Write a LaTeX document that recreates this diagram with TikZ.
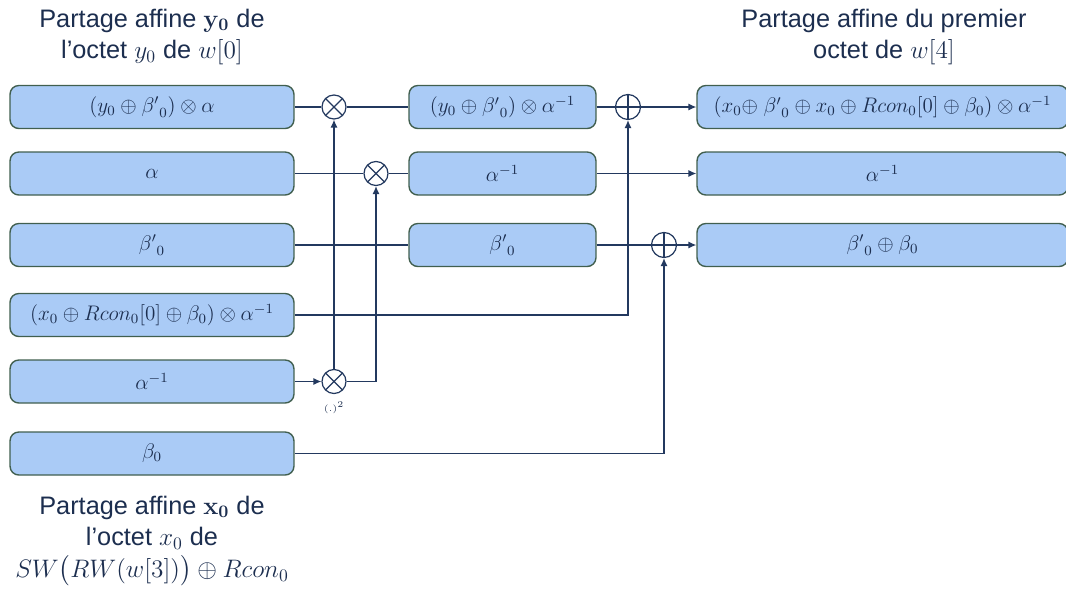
\documentclass[tikz,border=0pt]{standalone}
\usepackage[no-math]{fontspec}
\setmainfont{Liberation Sans}
\usepackage{amsmath,amssymb}
\usetikzlibrary{arrows.meta,positioning}
\definecolor{navy}{HTML}{1C2E4F}
\definecolor{wire}{HTML}{23395F}
\definecolor{boxfill}{HTML}{AACBF6}
\definecolor{boxline}{HTML}{415F4F}
\newcommand\boxmath{\fontsize{11.5}{14}\selectfont}
\newcommand\titlefont{\fontsize{14.4}{18}\selectfont}

\begin{document}
\begin{tikzpicture}[x=0.02cm, y=-0.02cm,
    sharebox/.style={rectangle, rounded corners=5pt, draw=boxline, line width=0.8pt,
                fill=boxfill, minimum width=5.68cm, minimum height=0.86cm,
                text=navy, font=\boxmath},
    midbox/.style={sharebox, minimum width=3.74cm},
    outbox/.style={sharebox, minimum width=7.42cm},
    title/.style={align=center, text=navy, font=\titlefont},
    mulnode/.style={circle, draw=wire, line width=0.7pt, fill=white,
                minimum size=0.48cm, inner sep=0pt,
                path picture={\draw[wire, line width=0.7pt]
                  (path picture bounding box.north west) -- (path picture bounding box.south east)
                  (path picture bounding box.north east) -- (path picture bounding box.south west);}},
    addnode/.style={circle, draw=wire, line width=0.7pt, fill=white,
                minimum size=0.5cm, inner sep=0pt,
                path picture={\draw[wire, line width=0.7pt]
                  (path picture bounding box.north) -- (path picture bounding box.south)
                  (path picture bounding box.west) -- (path picture bounding box.east);}},
    wire/.style={draw=wire, line width=0.7pt},
    arr/.style={wire, -{Latex[length=4.5pt,width=4pt]}},
]
\useasboundingbox (0,0) rectangle (1066,589);

% titles
\node[title] (tleft) at (152,37) {Partage affine $\mathbf{y_0}$ de\\l’octet $y_0$ de $w[0]$};
\node[title] (tright) at (884,37) {Partage affine du premier\\octet de $w[4]$};
\node[title] (tbottom) at (152,541) {Partage affine $\mathbf{x_0}$ de\\l’octet $x_0$ de\\$SW\bigl(RW(w[3])\bigr)\oplus Rcon_0$};

% input shares
\node[sharebox] (l1) at (152,107) {$(y_0\oplus {\beta'}_0)\otimes\alpha$};
\node[sharebox] (l2) at (152,173.5) {$\alpha$};
\node[sharebox] (l3) at (152,245) {${\beta'}_0$};
\node[sharebox] (l4) at (152,315) {$(x_0\oplus Rcon_0[0]\oplus\beta_0)\otimes\alpha^{-1}$};
\node[sharebox] (l5) at (152,381.5) {$\alpha^{-1}$};
\node[sharebox] (l6) at (152,453.5) {$\beta_0$};

% operators
\node[mulnode] (mul1) at (334,107) {};
\node[mulnode] (mul2) at (376,173.5) {};
\node[mulnode] (mul3) at (334,381.5) {};
\node[text=navy, font=\tiny, below=1pt of mul3] (sq) {$(.)^2$};
\node[addnode] (add1) at (628,107) {};
\node[addnode] (add2) at (664,245) {};

% intermediate shares
\node[midbox] (c1) at (502.5,107) {$(y_0\oplus {\beta'}_0)\otimes\alpha^{-1}$};
\node[midbox] (c2) at (502.5,173.5) {$\alpha^{-1}$};
\node[midbox] (c3) at (502.5,245) {${\beta'}_0$};

% output shares
\node[outbox] (r1) at (882.5,107) {$(x_0{\oplus}\ {\beta'}_0\oplus x_0\oplus Rcon_0[0]\oplus\beta_0)\otimes\alpha^{-1}$};
\node[outbox] (r2) at (882.5,173.5) {$\alpha^{-1}$};
\node[outbox] (r3) at (882.5,245) {${\beta'}_0\oplus\beta_0$};

% wires
\draw[wire] (l1.east) -- (mul1.west);
\draw[wire] (mul1.east) -- (c1.west);
\draw[wire] (l2.east) -- (mul2.west);
\draw[wire] (mul2.east) -- (c2.west);
\draw[wire] (l3.east) -- (c3.west);
\draw[arr] (l5.east) -- (mul3.west);
\draw[arr] (mul3.north) -- (mul1.south);
\draw[arr] (mul3.east) -| (mul2.south);
\draw[arr] (l4.east) -| (add1.south);
\draw[arr] (l6.east) -| (add2.south);
\draw[wire] (c1.east) -- (add1.west);
\draw[arr] (add1.east) -- (r1.west);
\draw[arr] (c2.east) -- (r2.west);
\draw[wire] (c3.east) -- (add2.west);
\draw[arr] (add2.east) -- (r3.west);
\end{tikzpicture}
\end{document}
